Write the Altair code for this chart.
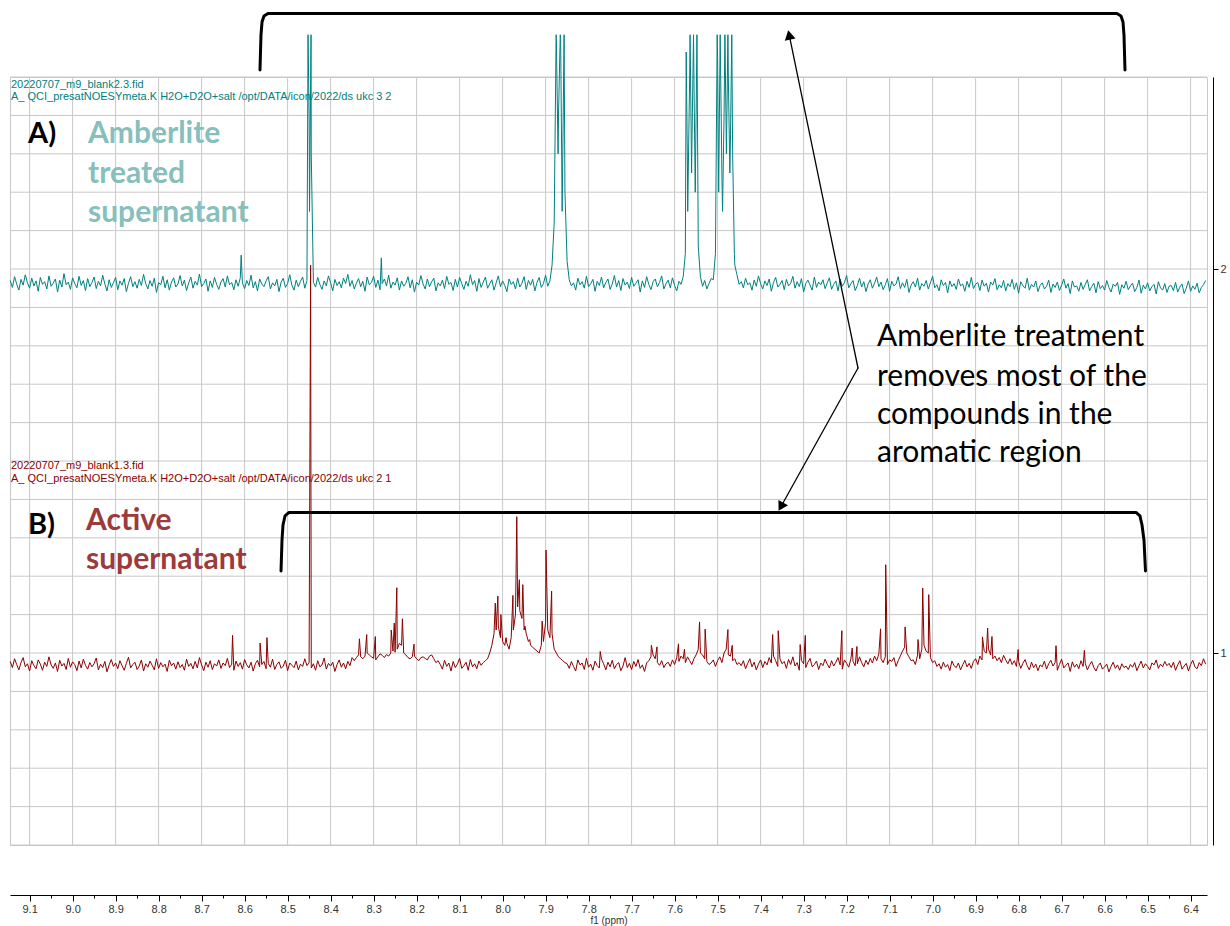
import altair as alt
import pandas as pd

# ---------------- axis ticks / grid ----------------
major_ticks = [9.1, 9.0, 8.9, 8.8, 8.7, 8.6, 8.5, 8.4, 8.3, 8.2, 8.1, 8.0, 7.9, 7.8,
               7.7, 7.6, 7.5, 7.4, 7.3, 7.2, 7.1, 7.0, 6.9, 6.8, 6.7, 6.6, 6.5, 6.4]
minor_ticks = [9.05, 8.95, 8.85, 8.75, 8.65, 8.55, 8.45, 8.35, 8.25, 8.15, 8.05, 7.95, 7.85,
               7.75, 7.65, 7.55, 7.45, 7.35, 7.25, 7.15, 7.05, 6.95, 6.85, 6.75, 6.65, 6.55, 6.45]
grid_levels = [0.5, 0.6, 0.7, 0.8, 0.9, 1.0, 1.1, 1.2, 1.3, 1.4, 1.5, 1.6, 1.7, 1.8,
               1.9, 2.0, 2.1, 2.2, 2.3, 2.4, 2.5]
stack_ticks = [1, 2]

# ---------------- spectra (intensity, 1000 = one stack unit) ----------------
# sampled every 0.005 ppm starting at 9.145 ppm (one row = 0.1 ppm)
PPM_START = 9.145
PPM_STEP = 0.005

red_base = [
    -22, -38, -15, -30, -44, -25, -12, -36, -28, -47, -20, -33, -41, -18, -29, -45, -24, -35, -10, -31,  # 9.145
    -40, -26, -48, -19, -34, -27, -43, -14, -37, -23, -30, -46, -21, -39, -16, -32, -42, -25, -36, -28,  # 9.045
    -13, -44, -29, -38, -22, -49, -31, -17, -35, -26, -41, -20, -33, -45, -27, -11, -39, -30, -24, -43,  # 8.945
    -34, -18, -47, -28, -37, -21, -32, -44, -15, -40, -25, -36, -29, -48, -19, -33, -26, -42, -23, -38,  # 8.845
    -30, -45, -16, -35, -27, -41, -22, -39, -12, -31, -46, -24, -37, -20, -43, -28, -34, -18, -40, -26,  # 8.745
    -33, -14, -38, -29, -45, -21, -35, -25, -42, -17, -31, -39, -24, -47, -28, -19, -36, -30, -22, -41,  # 8.645
    -27, -37, -16, -43, -30, -23, -40, -34, -19, -46, -26, -32, -38, -21, -44, -29, -35, -15, -33, -25,  # 8.545
    -39, -28, -45, -20, -36, -31, -13, -42, -27, -34, -24, -48, -30, -18, -37, -26, -41, -22, -33, -12,  # 8.445
    -20, -12, -5, -10, -15, -8, 0, -5, -10, -14, -18, -10, -2, -6, -12, -4, -8, 0, 5, 2,                # 8.345
    10, 25, 20, 0, -5, -12, -15, -10, -8, -15, -20, -12, -10, -14, -18, -8, -5, -15, -25, -20,           # 8.245
    -30, -42, -19, -35, -26, -47, -22, -38, -29, -14, -40, -33, -24, -45, -17, -36, -28, -41, -21, -32,  # 8.145
    -25, -20, -15, 0, 20, 50, 60, 70, 40, 30, 20, 25, 10, 40, 60, 100, 120, 110, 90, 60,                 # 8.045
    50, 30, 20, 15, 10, 5, 0, 20, 30, 80, 60, 40, 50, 10, 0, -10, -15, -20, -25, -28,                    # 7.945
    -40, -22, -35, -47, -18, -31, -26, -43, -14, -37, -29, -45, -21, -33, -39, -16, -28, -44, -24, -36,  # 7.845
    -19, -41, -30, -25, -46, -34, -12, -38, -27, -43, -22, -35, -17, -40, -31, -48, -26, -20, -10, -5,   # 7.745
    -15, -25, -32, -20, -38, -28, -24, -35, -18, -30, -12, -22, -8, -15, -25, -10, -20, -30, -15, -5,    # 7.645
    10, 0, -5, -15, -22, -30, -26, -18, -35, -20, -10, -25, 0, 10, -5, -8, -20, -15, -30, -25,          # 7.545
    -33, -20, -41, -27, -15, -36, -24, -44, -29, -18, -38, -22, -31, -12, -26, -8, -20, -35, -15, -28,   # 7.445
    -22, -40, -17, -30, -10, -34, -25, -45, -19, -28, -38, -24, -14, -36, -30, -21, -43, -26, -33, -16,  # 7.345
    -29, -39, -20, -34, -24, -12, -31, -42, -18, -27, -37, -15, -22, -33, -28, -10, -25, -36, -19, -30,  # 7.245
    -14, -26, -8, -20, -2, -15, -25, -10, -30, -18, -22, -12, -35, -20, -8, 5, 15, 0, -10, -20,          # 7.145
    -18, -30, -5, -15, 10, 20, 5, 0, -12, -25, -20, -35, -28, -42, -24, -37, -30, -46, -21, -33,         # 7.045
    -38, -26, -44, -31, -19, -36, -27, -40, -22, -15, -30, -8, -18, 5, 0, 10, -5, -15, -8, -20,          # 6.945
    -12, -25, -6, -18, -28, -15, -30, -20, -35, -22, -40, -27, -17, -33, -44, -24, -38, -29, -46, -31,   # 6.845
    -36, -21, -42, -28, -19, -34, -25, -45, -30, -16, -39, -32, -26, -48, -23, -37, -29, -41, -20, -35,  # 6.745
    -27, -44, -31, -22, -38, -47, -33, -26, -42, -36, -29, -49, -35, -24, -40, -31, -45, -28, -38, -34,  # 6.645
    -43, -30, -37, -25, -46, -33, -21, -39, -28, -35, -44, -26, -31, -18, -40, -29, -36, -22, -33, -27,  # 6.545
    -38, -24, -45, -31, -20, -42, -34, -27, -47, -30, -19, -36, -41, -25, -33, -15, -29,                 # 6.445
]
red_peak_ppm = [8.628, 8.564, 8.548, 8.4465, 8.333, 8.316, 8.296, 8.259, 8.252, 8.246, 8.233,
                8.206, 8.017, 8.011, 8.004, 7.992, 7.976, 7.967, 7.961, 7.953, 7.948, 7.937,
                7.908, 7.899, 7.886, 7.773, 7.654, 7.641, 7.591, 7.577, 7.542, 7.529, 7.476,
                7.466, 7.372, 7.359, 7.308, 7.296, 7.211, 7.187, 7.176, 7.121, 7.109, 7.064,
                7.034, 7.023, 7.009, 6.884, 6.872, 6.862, 6.801, 6.713, 6.647]
red_peak_int = [46, 26, 40, 1010, 37, 48, 43, 60, 78, 170, 89,
                23, 130, 148, 100, 40, 150, 355, 191, 178, 70, 35,
                83, 268, 161, 4, 20, 16, 24, 10, 81, 62, 61,
                20, 48, 58, 22, 46, 58, 13, 17, 63, 230, 68,
                35, 169, 152, 42, 65, 43, 9, 19, 7]

teal_base = [
    -30, -48, -20, -39, -55, -27, -42, -15, -36, -50, -24, -44, -31, -58, -22, -40, -33, -52, -18, -45,  # 9.145
    -37, -26, -60, -29, -47, -12, -41, -34, -53, -23, -38, -49, -19, -43, -30, -56, -25, -46, -35, -21,  # 9.045
    -51, -32, -44, -16, -39, -57, -28, -48, -36, -22, -54, -31, -42, -25, -59, -37, -20, -46, -33, -50,  # 8.945
    -27, -43, -14, -38, -52, -30, -45, -24, -61, -35, -41, -19, -49, -28, -55, -34, -23, -47, -39, -17,  # 8.845
    -44, -29, -56, -36, -21, -50, -32, -42, -13, -46, -38, -26, -58, -31, -48, -22, -40, -53, -34, -25,  # 8.745
    -47, -18, -41, -35, -54, -28, -45, -23, -37, -51, -30, -43, -16, -49, -33, -57, -26, -39, -46, -31,  # 8.645
    -20, -52, -36, -44, -27, -59, -34, -24, -48, -38, -15, -42, -55, -29, -46, -32, -21, -50, -30, 400,  # 8.545
    300, -35, -47, -22, -40, -53, -31, -44, -18, -36, -57, -27, -43, -33, -49, -24, -38, -14, -45, -30,  # 8.445
    -52, -37, -25, -46, -32, -58, -21, -41, -35, -19, -48, -29, -54, -38, -26, -44, -16, -50, -34, -42,  # 8.345
    -23, -55, -31, -45, -37, -20, -49, -28, -60, -34, -42, -17, -39, -52, -26, -46, -33, -24, -57, -36,  # 8.245
    -44, -29, -51, -19, -40, -35, -56, -27, -47, -22, -38, -53, -32, -45, -15, -41, -30, -58, -25, -48,  # 8.145
    -34, -21, -50, -39, -28, -55, -36, -18, -46, -31, -43, -59, -26, -40, -33, -52, -24, -47, -37, -20,  # 8.045
    -53, -30, -42, -27, -57, -35, -22, -48, -38, -16, -45, -31, 10, 120, 600, 400, 600, 300, 200, 20,    # 7.945
    -28, -44, -36, -55, -24, -41, -33, -50, -19, -46, -38, -27, -58, -32, -43, -21, -49, -35, -26, -53,  # 7.845
    -39, -17, -47, -30, -56, -25, -42, -34, -51, -22, -45, -37, -28, -60, -31, -48, -20, -40, -54, -33,  # 7.745
    -26, -46, -35, -18, -52, -38, -29, -49, -23, -43, -57, -32, -40, -20, 40, 250, 500, 300, 500, 400,   # 7.645
    60, -20, -45, -30, -52, -38, -25, -28, 40, 550, 500, 250, 400, 350, 500, 350, 300, 10, -15, -40,     # 7.545
    -33, -49, -24, -41, -36, -55, -29, -45, -18, -38, -52, -31, -43, -26, -58, -35, -22, -47, -40, -30,  # 7.445
    -54, -27, -44, -37, -19, -50, -33, -46, -25, -60, -38, -29, -42, -55, -21, -48, -34, -41, -28, -51,  # 7.345
    -36, -23, -53, -40, -31, -57, -26, -45, -35, -17, -49, -38, -30, -56, -43, -24, -47, -33, -59, -39,  # 7.245
    -28, -50, -37, -21, -46, -34, -54, -41, -25, -58, -32, -44, -39, -20, -51, -36, -48, -27, -61, -42,  # 7.145
    -33, -47, -24, -55, -38, -45, -30, -52, -36, -19, -49, -41, -57, -28, -43, -35, -62, -31, -46, -38,  # 7.045
    -53, -26, -44, -39, -58, -32, -48, -22, -51, -40, -35, -56, -29, -45, -37, -60, -34, -42, -25, -54,  # 6.945
    -41, -49, -30, -57, -38, -46, -27, -53, -36, -63, -33, -44, -50, -24, -55, -40, -47, -31, -59, -43,  # 6.845
    -36, -52, -45, -29, -61, -39, -48, -34, -56, -42, -26, -50, -38, -64, -31, -47, -44, -58, -35, -53,  # 6.745
    -40, -28, -57, -46, -37, -62, -33, -51, -43, -55, -30, -48, -60, -39, -45, -35, -66, -41, -50, -32,  # 6.645
    -54, -44, -37, -59, -48, -29, -63, -42, -52, -36, -57, -46, -40, -65, -33, -49, -55, -38, -61, -45,  # 6.545
    -43, -56, -35, -60, -47, -39, -64, -50, -31, -58, -44, -53, -37, -62, -48, -41, -30,                 # 6.445
]
teal_peak_ppm = [8.608, 8.4525, 8.449, 8.4455, 8.282, 7.8755, 7.871, 7.866, 7.8615, 7.857,
                 7.573, 7.5695, 7.564, 7.5605, 7.556, 7.552, 7.548,
                 7.501, 7.4975, 7.494, 7.4885, 7.483, 7.4795, 7.476, 7.4715, 7.467, 7.461]
teal_peak_int = [36, 610, 150, 610, 29, 610, 300, 610, 150, 610,
                 565, 150, 610, 250, 610, 200, 610,
                 610, 200, 610, 150, 610, 300, 610, 250, 610, 40]

# ---------------- texts ----------------
teal_header = ["20220707_m9_blank2.3.fid",
               "A_ QCI_presatNOESYmeta.K H2O+D2O+salt /opt/DATA/icon/2022/ds ukc 3 2"]
red_header = ["20220707_m9_blank1.3.fid",
              "A_ QCI_presatNOESYmeta.K H2O+D2O+salt /opt/DATA/icon/2022/ds ukc 2 1"]
header_ppm = 9.1433
teal_header_y = [2.4792, 2.4479]
red_header_y = [1.4870, 1.4531]

panel_tags = ["A)", "B)"]
panel_tag_ppm = [9.1037, 9.1037]
panel_tag_y = [2.3516, 1.3333]

teal_label = ["Amberlite", "treated", "supernatant"]
teal_label_ppm = 8.9642
teal_label_y = [2.3516, 2.2474, 2.1458]
red_label = ["Active", "supernatant"]
red_label_ppm = 8.9688
red_label_y = [1.3438, 1.2422]

note_lines = ["Amberlite treatment", "removes most of the", "compounds in the", "aromatic region"]
note_ppm = 7.1293
note_y = [1.8229, 1.7188, 1.6198, 1.5208]

# ---------------- brackets & arrows (data coordinates) ----------------
upper_bracket_ppm = [8.5642, 8.5619, 8.5595, 8.5549, 8.5456, 6.5712, 6.5619, 6.5572, 6.5549, 6.5526]
upper_bracket_y = [2.5182, 2.6094, 2.6432, 2.6589, 2.6654, 2.6654, 2.6589, 2.6432, 2.6094, 2.5182]
lower_bracket_ppm = [8.5153, 8.5130, 8.5107, 8.5060, 8.4967, 6.5270, 6.5177, 6.5130, 6.5084, 6.5049]
lower_bracket_y = [1.2135, 1.2943, 1.3333, 1.3568, 1.3659, 1.3659, 1.3568, 1.3333, 1.2943, 1.2135]
arrow_start = (7.1735, 1.7422)
arrow_up_head = (7.3335, 2.6096)
arrow_down_head = (7.3528, 1.3810)

# ---------------- build tables ----------------
def spectrum_table(base, pk_ppm, pk_int, stack):
    rows = [(round(PPM_START - PPM_STEP * i, 4), v) for i, v in enumerate(base)]
    rows += list(zip(pk_ppm, pk_int))
    df = pd.DataFrame(rows, columns=["ppm", "intensity"]).sort_values("ppm")
    df["y"] = stack + df["intensity"] / 1000.0
    return df

teal_df = spectrum_table(teal_base, teal_peak_ppm, teal_peak_int, 2)
red_df = spectrum_table(red_base, red_peak_ppm, red_peak_int, 1)

xs = alt.Scale(domain=[6.36186, 9.14558], reverse=True, nice=False, zero=False)
ys = alt.Scale(domain=[0.5, 2.5], nice=False, zero=False)

FONT_AX = "Liberation Sans"
major_test = "round(datum.value*100) % 10 == 0"

x_axis = alt.Axis(
    values=sorted(major_ticks + minor_ticks),
    labelExpr=f"{major_test} ? format(datum.value, '.1f') : ''",
    tickSize={"condition": {"test": major_test, "value": 6}, "value": 3},
    offset=50, grid=False, domainColor="black", tickColor="black", domainWidth=1,
    labelFont=FONT_AX, labelFontSize=11, labelColor="#333333", labelPadding=2,
    labelOverlap=False, labelFlush=False, labelBound=False,
    title="f1 (ppm)", titleFont=FONT_AX, titleFontSize=10, titleFontWeight="normal",
    titleColor="#333333", titlePadding=1,
)
y_axis = alt.Axis(
    orient="right", values=stack_ticks, offset=6, grid=False, format="d",
    domainColor="black", tickColor="black", tickSize=5,
    labelFont=FONT_AX, labelFontSize=11, labelColor="#333333", labelPadding=2, title=None,
)

def X(field="ppm"):
    return alt.X(f"{field}:Q", scale=xs, axis=x_axis)

def Y(field="y"):
    return alt.Y(f"{field}:Q", scale=ys, axis=y_axis)

GRID = "#c8c8c8"
vgrid = alt.Chart(pd.DataFrame({"ppm": major_ticks})).mark_rule(color=GRID, strokeWidth=1).encode(x=X())
hgrid = alt.Chart(pd.DataFrame({"y": grid_levels})).mark_rule(color=GRID, strokeWidth=1).encode(y=Y())

teal_line = alt.Chart(teal_df).mark_line(color="#008080", strokeWidth=1).encode(x=X(), y=Y())
red_line = alt.Chart(red_df).mark_line(color="#8b0000", strokeWidth=1).encode(x=X(), y=Y())

def text_layer(texts, ppms, yvals, **style):
    df = pd.DataFrame({"ppm": ppms, "y": yvals, "t": texts})
    return alt.Chart(df).mark_text(align="left", baseline="middle", **style).encode(
        x=X(), y=Y(), text="t:N")

layers = [
    vgrid, hgrid, teal_line, red_line,
    text_layer(teal_header, [header_ppm] * 2, teal_header_y, font=FONT_AX, fontSize=11, color="#008080"),
    text_layer(red_header, [header_ppm] * 2, red_header_y, font=FONT_AX, fontSize=11, color="#8b0000"),
    text_layer(panel_tags, panel_tag_ppm, panel_tag_y, font="Lato", fontSize=29, fontWeight="bold", color="black"),
    text_layer(teal_label, [teal_label_ppm] * 3, teal_label_y, font="Lato", fontSize=30, fontWeight="bold", color="#86bfbc"),
    text_layer(red_label, [red_label_ppm] * 2, red_label_y, font="Lato", fontSize=30, fontWeight="bold", color="#9b3b3b"),
    text_layer(note_lines, [note_ppm] * 4, note_y, font="Lato", fontSize=30, color="black"),
]

def path_layer(ppms, yvals, width):
    df = pd.DataFrame({"ppm": ppms, "y": yvals, "i": list(range(len(ppms)))})
    return alt.Chart(df).mark_line(color="black", strokeWidth=width, strokeCap="round",
                                   strokeJoin="round").encode(x=X(), y=Y(), order="i:Q")

layers.append(path_layer(upper_bracket_ppm, upper_bracket_y, 3))
layers.append(path_layer(lower_bracket_ppm, lower_bracket_y, 3))
layers.append(path_layer([arrow_start[0], arrow_up_head[0]], [arrow_start[1], arrow_up_head[1]], 1.3))
layers.append(path_layer([arrow_start[0], arrow_down_head[0]], [arrow_start[1], arrow_down_head[1]], 1.3))

def head_layer(pt, angle):
    df = pd.DataFrame({"ppm": [pt[0]], "y": [pt[1]]})
    return alt.Chart(df).mark_point(shape="triangle-up", filled=True, size=120, angle=angle,
                                    color="black", opacity=1, strokeWidth=0).encode(x=X(), y=Y())

layers.append(head_layer(arrow_up_head, 348))
layers.append(head_layer(arrow_down_head, 209))

chart = alt.layer(*layers).properties(
    width=1197, height=768,
    padding={"left": 10, "top": 77, "right": 23, "bottom": 81},
    autosize=alt.AutoSizeParams(type="none"),
).configure_view(stroke=GRID, strokeWidth=1)

chart.save("out.html", embed_options={"renderer": "svg", "actions": False})
